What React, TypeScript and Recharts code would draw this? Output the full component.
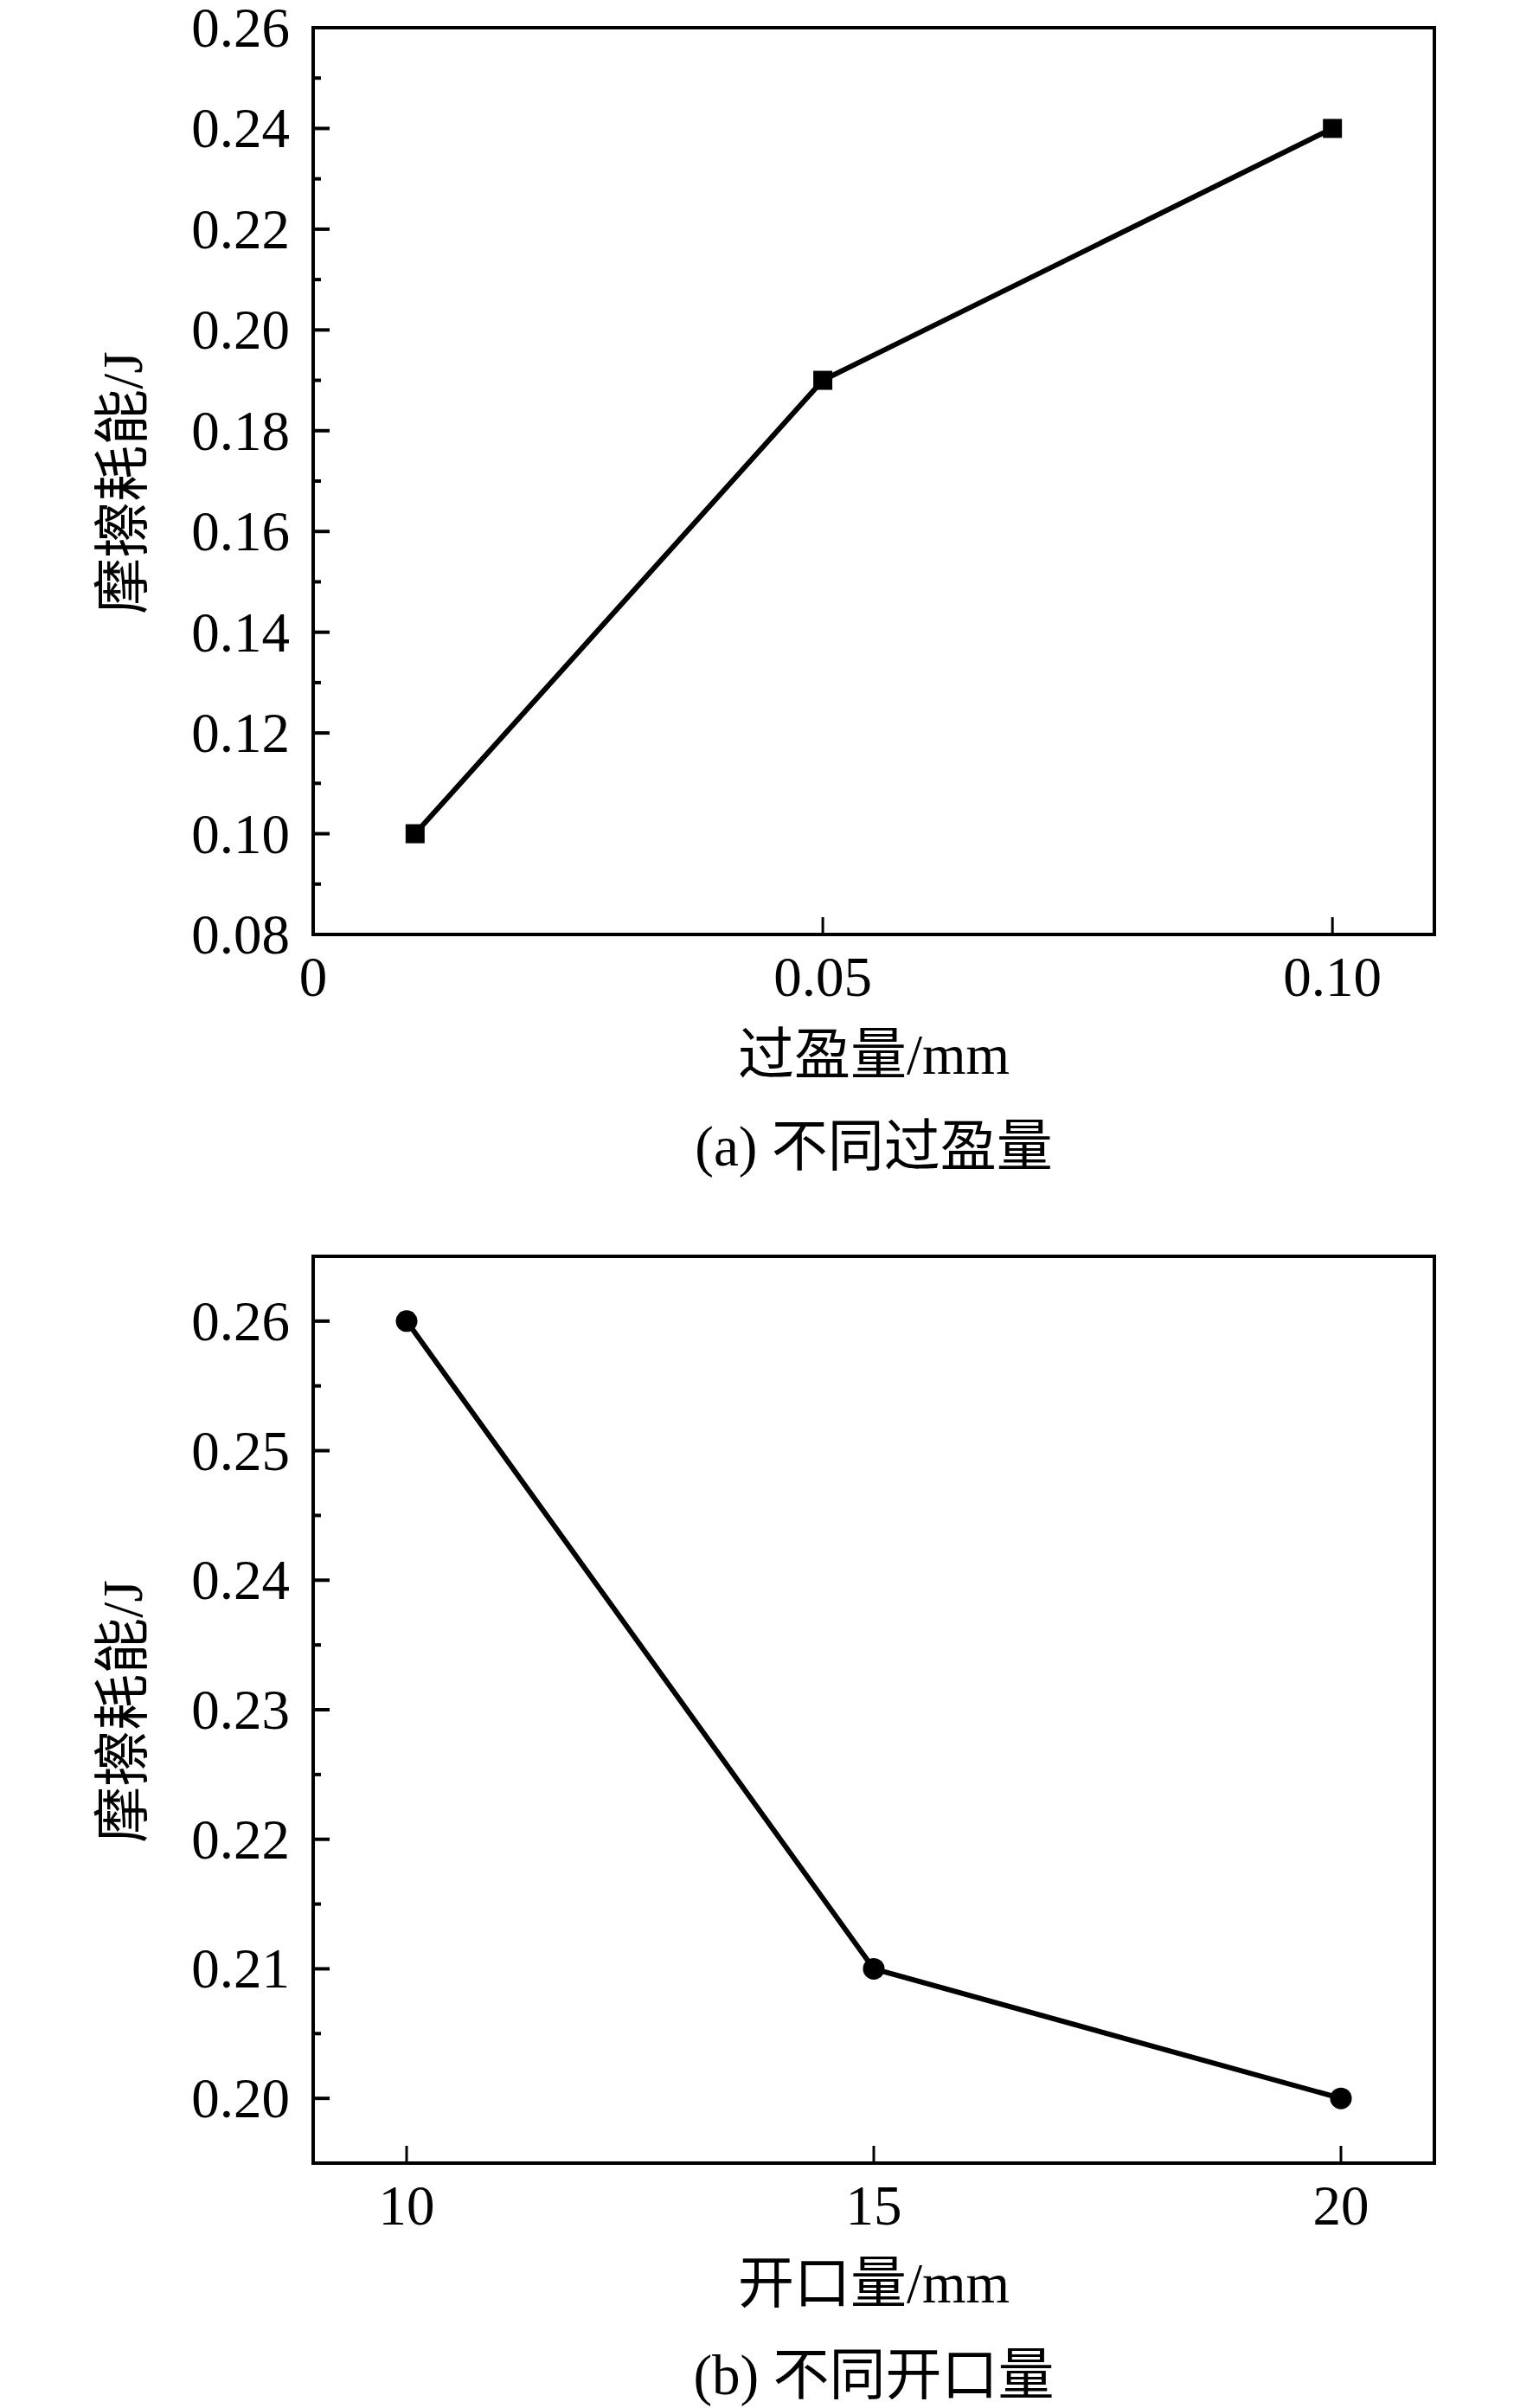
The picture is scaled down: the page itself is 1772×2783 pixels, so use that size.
import React from 'react';
import { LineChart, Line, XAxis, YAxis, ReferenceArea, Label } from 'recharts';

// (a) interference fit
const overlapMm = [0.01, 0.05, 0.1];
const overlapEnergy = [0.1, 0.19, 0.24];
const overlapXTicks = [0, 0.05, 0.1];
const overlapXLabels = ['0', '0.05', '0.10'];
const overlapYMajor = [0.08, 0.1, 0.12, 0.14, 0.16, 0.18, 0.2, 0.22, 0.24, 0.26];
const overlapYMinor = [0.09, 0.11, 0.13, 0.15, 0.17, 0.19, 0.21, 0.23, 0.25];

// (b) opening size
const openingMm = [10, 15, 20];
const openingEnergy = [0.26, 0.21, 0.2];
const openingXTicks = [10, 15, 20];
const openingXLabels = ['10', '15', '20'];
const openingYMajor = [0.2, 0.21, 0.22, 0.23, 0.24, 0.25, 0.26];
const openingYMinor = [0.205, 0.215, 0.225, 0.235, 0.245, 0.255];

const FONT = "'Liberation Serif', 'Times New Roman', 'Noto Sans CJK SC', serif";
const FS = 65;
const W = 1772;

const YTick = ({ x, y, payload, majors }: any) => {
  const v = payload.value;
  const major = majors.some((m: number) => Math.abs(m - v) < 1e-9);
  return (
    <g>
      <line x1={x} x2={x + (major ? 19 : 9)} y1={y} y2={y} stroke="#000" strokeWidth={4} />
      {major && (
        <text x={x - 27} y={y} textAnchor="end" dominantBaseline="central" fontFamily={FONT} fontSize={FS} fill="#000">
          {v.toFixed(2)}
        </text>
      )}
    </g>
  );
};

const XTick = ({ x, y, payload, ticks, labels }: any) => {
  const i = ticks.findIndex((t: number) => Math.abs(t - payload.value) < 1e-9);
  return (
    <g>
      <line x1={x} x2={x} y1={y} y2={y - 20} stroke="#000" strokeWidth={3} />
      <text x={x} y={y + 71} textAnchor="middle" fontFamily={FONT} fontSize={FS} fill="#000">
        {labels[i]}
      </text>
    </g>
  );
};

const SquareDot = (p: any) => (
  <rect key={`sq-${p.index}`} x={p.cx - 11} y={p.cy - 11} width={22} height={22} fill="#000" />
);

const CircleDot = (p: any) => <circle key={`c-${p.index}`} cx={p.cx} cy={p.cy} r={12.5} fill="#000" />;

interface PanelProps {
  xs: number[];
  ys: number[];
  xDomain: [number, number];
  yDomain: [number, number];
  xTicks: number[];
  xLabels: string[];
  yMajor: number[];
  yMinor: number[];
  square: boolean;
  xTitle: string;
  caption: string;
  height: number;
}

const Panel = (props: PanelProps) => {
  const data = props.xs.map((x, i) => ({ x, e: props.ys[i] }));
  const yTicks = [...props.yMajor, ...props.yMinor].sort((a, b) => a - b);
  const xAxisH = 100;
  return (
    <LineChart
      width={W}
      height={props.height}
      data={data}
      margin={{ top: 32, right: 114, left: 262, bottom: props.height - 1080 - xAxisH }}
    >
      <XAxis
        dataKey="x"
        type="number"
        domain={props.xDomain}
        ticks={props.xTicks}
        interval={0}
        height={xAxisH}
        axisLine={false}
        tickLine={false}
        tickSize={0}
        tickMargin={0}
        allowDataOverflow
        tick={<XTick ticks={props.xTicks} labels={props.xLabels} />}
      >
        <Label
          content={(lp: any) => {
            const vb = lp.viewBox || { x: 362, y: 1080, width: 1296 };
            const cx = vb.x + vb.width / 2;
            return (
              <g>
                <text x={cx} y={vb.y + 161} textAnchor="middle" fontFamily={FONT} fontSize={FS} fill="#000">
                  {props.xTitle}
                </text>
                <text x={cx} y={vb.y + 267} textAnchor="middle" fontFamily={FONT} fontSize={FS} fill="#000">
                  {props.caption}
                </text>
              </g>
            );
          }}
        />
      </XAxis>
      <YAxis
        type="number"
        domain={props.yDomain}
        ticks={yTicks}
        interval={0}
        width={100}
        axisLine={false}
        tickLine={false}
        tickSize={0}
        tickMargin={0}
        allowDataOverflow
        tick={<YTick majors={props.yMajor} />}
      >
        <Label
          content={(lp: any) => {
            const vb = lp.viewBox || { x: 262, y: 32, width: 100, height: 1048 };
            const cx = vb.x + vb.width - 220;
            const cy = vb.y + vb.height / 2 + 2;
            return (
              <text
                x={cx}
                y={cy}
                transform={`rotate(-90, ${cx}, ${cy})`}
                textAnchor="middle"
                dominantBaseline="central"
                fontFamily={FONT}
                fontSize={FS}
                fill="#000"
              >
                摩擦耗能/J
              </text>
            );
          }}
        />
      </YAxis>
      <ReferenceArea
        x1={props.xDomain[0]}
        x2={props.xDomain[1]}
        y1={props.yDomain[0]}
        y2={props.yDomain[1]}
        fill="none"
        fillOpacity={0}
        stroke="#000"
        strokeWidth={4}
        ifOverflow="visible"
      />
      <Line
        dataKey="e"
        type="linear"
        stroke="#000"
        strokeWidth={6}
        dot={props.square ? SquareDot : CircleDot}
        activeDot={false}
        isAnimationActive={false}
      />
    </LineChart>
  );
};

const App = () => (
  <div style={{ width: W, background: '#fff' }}>
    <style>{'body{margin:0;overflow:hidden;background:#fff}'}</style>
    <Panel
      xs={overlapMm}
      ys={overlapEnergy}
      xDomain={[0, 0.11]}
      yDomain={[0.08, 0.26]}
      xTicks={overlapXTicks}
      xLabels={overlapXLabels}
      yMajor={overlapYMajor}
      yMinor={overlapYMinor}
      square
      xTitle="过盈量/mm"
      caption="(a) 不同过盈量"
      height={1420}
    />
    <Panel
      xs={openingMm}
      ys={openingEnergy}
      xDomain={[9, 21]}
      yDomain={[0.195, 0.265]}
      xTicks={openingXTicks}
      xLabels={openingXLabels}
      yMajor={openingYMajor}
      yMinor={openingYMinor}
      square={false}
      xTitle="开口量/mm"
      caption="(b) 不同开口量"
      height={1363}
    />
  </div>
);

export default App;
